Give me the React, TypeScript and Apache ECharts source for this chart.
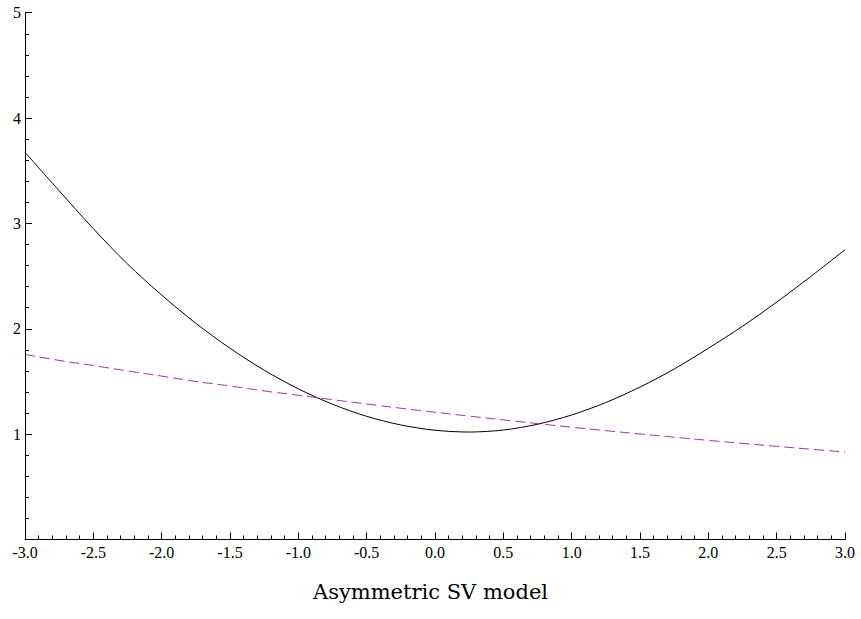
import React, { useEffect, useRef } from "react";
import * as echarts from "echarts";

const xValues = [-3, -2.75, -2.5, -2.25, -2, -1.75, -1.5, -1.25, -1, -0.75, -0.5, -0.25, 0, 0.25, 0.5, 0.75, 1, 1.25, 1.5, 1.75, 2, 2.25, 2.5, 2.75, 3];
const asymmetricCurve = [3.675, 3.31, 2.95, 2.615, 2.32, 2.052, 1.815, 1.607, 1.43, 1.284, 1.169, 1.087, 1.037, 1.02, 1.039, 1.094, 1.182, 1.3, 1.447, 1.618, 1.815, 2.024, 2.253, 2.497, 2.75];
const dashedCurve = [1.757, 1.70, 1.651, 1.60, 1.551, 1.50, 1.457, 1.41, 1.369, 1.327, 1.286, 1.246, 1.208, 1.171, 1.135, 1.10, 1.066, 1.033, 1.0015, 0.971, 0.941, 0.912, 0.884, 0.857, 0.83];
const titleText = "Asymmetric SV model";

export default function App() {
  const ref = useRef<HTMLDivElement>(null);
  useEffect(() => {
    if (!ref.current) return;
    const chart = echarts.init(ref.current, undefined, { renderer: "svg" });
    const serif = "'Liberation Serif', 'Times New Roman', serif";
    const labelStyle = { fontFamily: serif, fontSize: 16, color: "#000" };
    chart.setOption({
      animation: false,
      backgroundColor: "#fff",
      textStyle: { fontFamily: serif },
      title: {
        text: titleText,
        left: "center",
        top: 576,
        textStyle: { fontFamily: "'DejaVu Serif', serif", fontSize: 21, fontWeight: "normal", color: "#000" },
      },
      grid: { left: 25, right: 16, top: 12.7, bottom: 79.5, containLabel: false },
      xAxis: {
        type: "value",
        min: -3,
        max: 3,
        interval: 0.5,
        axisLine: { onZero: false, lineStyle: { color: "#000", width: 1 } },
        axisTick: { inside: true, length: 7, lineStyle: { color: "#000" } },
        minorTick: { show: true, splitNumber: 5, length: 4, lineStyle: { color: "#000" } },
        splitLine: { show: false },
        axisLabel: { ...labelStyle, margin: 5, formatter: (v: number) => v.toFixed(1) },
      },
      yAxis: {
        type: "value",
        min: 0,
        max: 5,
        interval: 1,
        axisLine: { show: true, onZero: false, lineStyle: { color: "#000", width: 1 } },
        axisTick: { show: true, inside: true, length: 7, lineStyle: { color: "#000" } },
        minorTick: { show: true, splitNumber: 5, length: 4, lineStyle: { color: "#000" } },
        splitLine: { show: false },
        axisLabel: { ...labelStyle, margin: 4, formatter: (v: number) => (v === 0 ? "" : String(v)) },
      },
      series: [
        {
          type: "line",
          data: xValues.map((x, i) => [x, asymmetricCurve[i]]),
          smooth: 0.3,
          showSymbol: false,
          lineStyle: { color: "#000", width: 1 },
        },
        {
          type: "line",
          data: xValues.map((x, i) => [x, dashedCurve[i]]),
          smooth: true,
          showSymbol: false,
          lineStyle: { color: "#99309c", width: 1, type: [10, 5] },
        },
      ],
    });
    return () => chart.dispose();
  }, []);
  return <div ref={ref} style={{ width: 861, height: 619, position: "absolute", left: 0, top: 0 }} />;
}
